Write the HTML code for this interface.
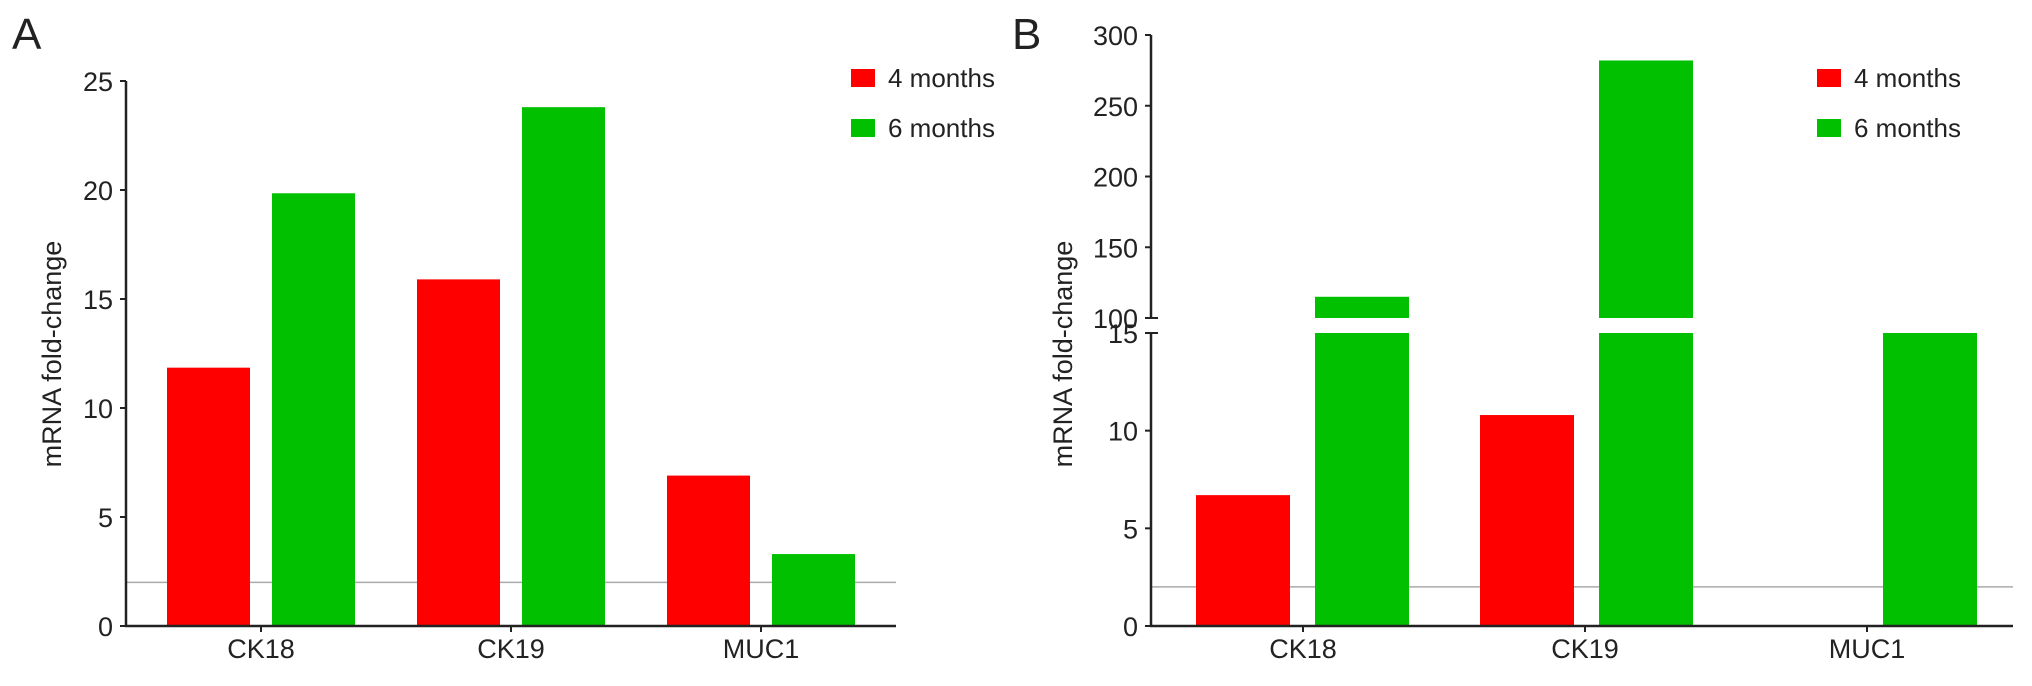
<!DOCTYPE html>
<html><head><meta charset="utf-8"><style>
html,body{margin:0;padding:0;background:#fff;}
svg text{font-family:"Liberation Sans",Arial,sans-serif;fill:#222;}
</style></head><body>
<svg id="chart" width="2032" height="681" viewBox="0 0 2032 681" xmlns="http://www.w3.org/2000/svg">
<text x="12" y="49" font-size="44">A</text>
<text x="1012" y="49" font-size="44">B</text>
<g id="pa"></g>
<g id="pb"></g>
</svg>
<script>
const categories = ["CK18","CK19","MUC1"];
const seriesNames = ["4 months","6 months"];
const aValues4 = [11.85, 15.9, 6.9];
const aValues6 = [19.85, 23.8, 3.3];
const aTicks = [0,5,10,15,20,25];
const bValues4 = [6.7, 10.8, null];
const bValues6 = [115, 282, 15];
const bLowerTicks = [0,5,10,15];
const bUpperTicks = [100,150,200,250,300];
const threshold = 2;

const NS="http://www.w3.org/2000/svg";
const RED="#ff0000", GREEN="#00c000", AX="#222";
function mk(parent,tag,attrs,text){const e=document.createElementNS(NS,tag);for(const k in attrs)e.setAttribute(k,attrs[k]);if(text!==undefined)e.textContent=text;parent.appendChild(e);return e;}

function legend(g,x,y){
  const cols=[RED,GREEN];
  seriesNames.forEach((s,i)=>{
    const r=mk(g,'rect',{x:x,y:y+i*50-9,width:24,height:18,fill:cols[i]});
    
    
    const t=mk(g,'text',{x:x+37,y:y+i*50+9,'font-size':26},s);
    
    
  });
}
function xlabels(g,centers,y0){
  categories.forEach((c,i)=>{
    const tk=mk(g,'line',{x1:centers[i],x2:centers[i],y1:y0,y2:y0+6,stroke:AX,'stroke-width':2});
    
    
    const t=mk(g,'text',{x:centers[i],y:y0+32,'font-size':27,'text-anchor':'middle'},c);
    
    
  });
}

// Panel A
(function(){
  const g=document.getElementById('pa');
  const ax=126, y0=626, yTop=81, vmax=25, xEnd=896;
  const y=v=>y0-(v/vmax)*(y0-yTop);
  const gx0=167, gstep=250, bw=83, off=105;
  const thr=mk(g,'line',{x1:ax,x2:xEnd,y1:y(threshold),y2:y(threshold),stroke:'#aaa','stroke-width':1.5});
  
  
  categories.forEach((c,i)=>{
    [aValues4,aValues6].forEach((arr,s)=>{
      const v=arr[i]; if(v==null)return;
      const r=mk(g,'rect',{x:gx0+i*gstep+s*off,y:y(v),width:bw,height:y0-y(v),fill:s?GREEN:RED});
      
      
    });
  });
  const yl=mk(g,'line',{x1:ax,x2:ax,y1:yTop,y2:y0+1,stroke:AX,'stroke-width':2.5});
  
  
  const xl=mk(g,'line',{x1:ax-1,x2:xEnd,y1:y0,y2:y0,stroke:AX,'stroke-width':2.5});
  
  
  aTicks.forEach(t=>{
    const l=mk(g,'line',{x1:ax-6,x2:ax,y1:y(t),y2:y(t),stroke:AX,'stroke-width':2});
    
    
    const tx=mk(g,'text',{x:ax-13,y:y(t)+10,'font-size':27,'text-anchor':'end'},String(t));
    
    
  });
  xlabels(g,categories.map((c,i)=>261+i*gstep),y0);
  const tt=mk(g,'text',{x:0,y:0,'font-size':27,'text-anchor':'middle',transform:'translate(61,354) rotate(-90)'},'mRNA fold-change');
  
  
  legend(g,851,78);
})();

// Panel B
(function(){
  const g=document.getElementById('pb');
  const ax=1151, y0=626, yLowTop=333, yUpBot=318, yUpTop=35, xEnd=2013;
  const yL=v=>y0-(v/15)*(y0-yLowTop);
  const yU=v=>yUpBot-((v-100)/200)*(yUpBot-yUpTop);
  const gx0=1196, gstep=284, bw=94, off=119;
  const thr=mk(g,'line',{x1:ax,x2:xEnd,y1:yL(threshold),y2:yL(threshold),stroke:'#aaa','stroke-width':1.5});
  
  
  categories.forEach((c,i)=>{
    [bValues4,bValues6].forEach((arr,s)=>{
      const v=arr[i]; if(v==null)return;
      const x=gx0+i*gstep+s*off;
      const top=yL(Math.min(v,15));
      const r=mk(g,'rect',{x:x,y:top,width:bw,height:y0-top,fill:s?GREEN:RED});
      
      
      if(v>100){
        const ut=yU(v);
        const r2=mk(g,'rect',{x:x,y:ut,width:bw,height:yUpBot-ut,fill:s?GREEN:RED});
        
        
      }
    });
  });
  const yl1=mk(g,'line',{x1:ax,x2:ax,y1:yUpTop,y2:yUpBot,stroke:AX,'stroke-width':2.5});
  
  
  const yl2=mk(g,'line',{x1:ax,x2:ax,y1:yLowTop,y2:y0+1,stroke:AX,'stroke-width':2.5});
  
  
  [yUpBot,yLowTop].forEach((yy,k)=>{
    const b=mk(g,'line',{x1:ax-6,x2:ax+7,y1:yy,y2:yy,stroke:AX,'stroke-width':2});
    
    
  });
  const xl=mk(g,'line',{x1:ax-1,x2:xEnd,y1:y0,y2:y0,stroke:AX,'stroke-width':2.5});
  
  
  bLowerTicks.forEach(t=>{
    const yy=yL(t);
    const l=mk(g,'line',{x1:ax-6,x2:ax,y1:yy,y2:yy,stroke:AX,'stroke-width':2});
    
    
    const tx=mk(g,'text',{x:ax-13,y:yy+10,'font-size':27,'text-anchor':'end'},String(t));
    
    
  });
  bUpperTicks.forEach(t=>{
    const yy=yU(t);
    const l=mk(g,'line',{x1:ax-6,x2:ax,y1:yy,y2:yy,stroke:AX,'stroke-width':2});
    
    
    const tx=mk(g,'text',{x:ax-13,y:yy+10,'font-size':27,'text-anchor':'end'},String(t));
    
    
  });
  xlabels(g,categories.map((c,i)=>1303+i*282),y0);
  const tt=mk(g,'text',{x:0,y:0,'font-size':27,'text-anchor':'middle',transform:'translate(1072,354) rotate(-90)'},'mRNA fold-change');
  
  
  legend(g,1817,78);
})();
</script>
</body></html>
